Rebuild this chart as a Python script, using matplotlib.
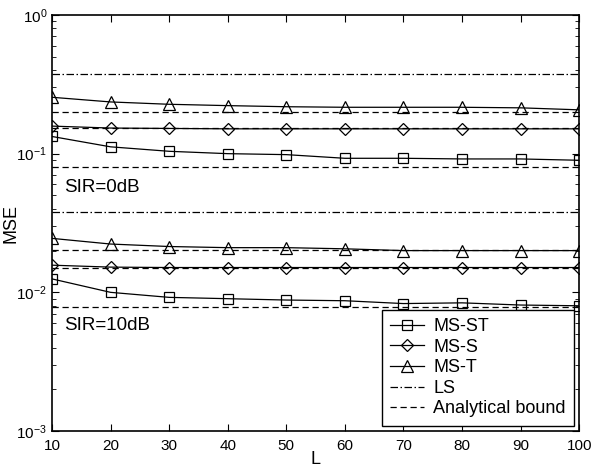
import matplotlib
matplotlib.use("Agg")
import matplotlib.pyplot as plt
import numpy as np

plt.rcParams['font.family'] = ['Liberation Sans', 'DejaVu Sans']
plt.rcParams['mathtext.default'] = 'regular'

L = [10, 20, 30, 40, 50, 60, 70, 80, 90, 100]

# SIR = 0 dB
ms_st_0 = [0.133, 0.112, 0.104, 0.100, 0.0984, 0.0926, 0.0926, 0.0916, 0.0916, 0.0896]
ms_s_0 = [0.158, 0.153, 0.152, 0.151, 0.151, 0.151, 0.151, 0.151, 0.151, 0.151]
ms_t_0 = [0.255, 0.236, 0.227, 0.222, 0.218, 0.216, 0.216, 0.216, 0.214, 0.207]
ls_0 = 0.376
bounds_0 = [0.200, 0.152, 0.080]

# SIR = 10 dB
ms_st_10 = [0.0125, 0.0100, 0.0092, 0.0090, 0.0088, 0.0087, 0.0083, 0.0084, 0.0081, 0.0080]
ms_s_10 = [0.0157, 0.0152, 0.0151, 0.0151, 0.0151, 0.0151, 0.0151, 0.0151, 0.0151, 0.0151]
ms_t_10 = [0.0245, 0.0223, 0.0214, 0.0210, 0.0210, 0.0206, 0.0200, 0.0200, 0.0200, 0.0200]
ls_10 = 0.0378
bounds_10 = [0.0201, 0.0151, 0.0079]

fig = plt.figure(figsize=(5.91, 4.68), dpi=100)
ax = fig.add_axes([0.088, 0.079, 0.892, 0.889])

mk = dict(color='black', lw=0.9, markersize=7.5, markerfacecolor='none',
          markeredgecolor='black', markeredgewidth=0.9)
ax.plot(L, ms_st_0, marker='s', label='MS-ST', **mk)
ax.plot(L, ms_s_0, marker='D', label='MS-S', **{**mk, 'markersize': 6.5})
ax.plot(L, ms_t_0, marker='^', label='MS-T', **{**mk, 'markersize': 8.5})
ax.plot(L, ms_st_10, marker='s', **mk)
ax.plot(L, ms_s_10, marker='D', **{**mk, 'markersize': 6.5})
ax.plot(L, ms_t_10, marker='^', **{**mk, 'markersize': 8.5})

ax.axhline(ls_0, color='black', lw=0.9, ls=(0, (6, 2, 1.2, 2)), label='LS')
ax.axhline(ls_10, color='black', lw=0.9, ls=(0, (6, 2, 1.2, 2)))
for i, b in enumerate(bounds_0 + bounds_10):
    ax.axhline(b, color='black', lw=0.9, ls=(0, (5, 3)),
               label='Analytical bound' if i == 0 else None)

ax.set_xlim(10, 100)
ax.set_ylim(1e-3, 1)
ax.set_yscale('log')
ax.set_xticks(L)
ax.tick_params(which='both', direction='in', top=True, right=True, labelsize=11)
ax.tick_params(axis='x', which='major', pad=6)
ax.tick_params(which='major', length=5, width=0.8)
ax.tick_params(which='minor', length=3, width=0.6)
for s in ax.spines.values():
    s.set_linewidth(1.2)

ax.set_xlabel('L', fontsize=13, labelpad=-2)
ax.set_ylabel('MSE', fontsize=13)
ax.yaxis.set_label_coords(-0.062, 0.5)

ax.text(12, 0.057, 'SIR=0dB', fontsize=13.5, va='center')
ax.text(12, 0.0058, 'SIR=10dB', fontsize=13.5, va='center')

leg = ax.legend(loc='lower right', fontsize=13, frameon=True, fancybox=False,
                edgecolor='black', framealpha=1, handlelength=1.9,
                handletextpad=0.5, labelspacing=0.2, borderpad=0.45,
                borderaxespad=0.3)
leg.get_frame().set_linewidth(1.0)

fig.savefig('out.png', dpi=100)
